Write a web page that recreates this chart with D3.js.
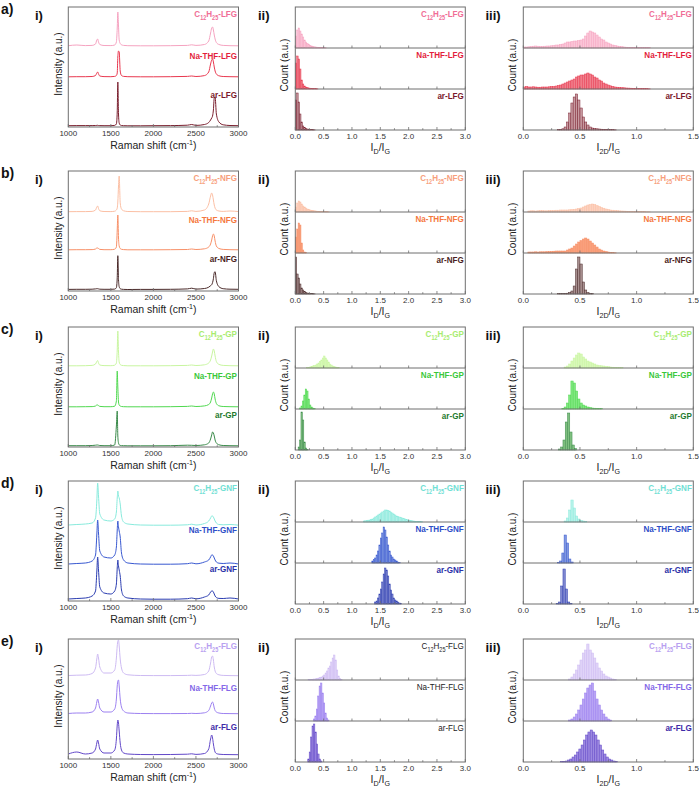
<!DOCTYPE html>
<html><head><meta charset="utf-8">
<script src="https://cdn.jsdelivr.net/npm/d3@7"></script>
<style>body{margin:0;background:#fff}</style>
</head><body><svg id="c" width="699" height="788"></svg>
<script>
// ---------------- DATA ----------------
const rowLetters = ["a)","b)","c)","d)","e)"];
const materials = ["LFG","NFG","GP","GNF","FLG"];
const ramanTicks = [1000,1500,2000,2500,3000];
const idgTicks = [0.0,0.5,1.0,1.5,2.0,2.5,3.0];
const i2dgTicks = [0.0,0.5,1.0,1.5];
const idgBin = 0.025;
const i2dgBin = 0.02;

// Raman shift sample positions (cm-1)
const shifts = [1000,1100,1200,1280,1320,1335,1345,1355,1370,1420,
                1500,1545,1565,1575,1582,1590,1598,1610,1625,1650,
                1700,1850,2000,2200,2400,2450,2500,2600,2650,2672,
                2685,2695,2705,2715,2725,2740,2770,2820,2900,3000];

// spectra: [C12H25, Na-THF, ar], intensity (a.u.) above each trace baseline
const ramanLFG = [
 [0.3,1,0.4,0.6,2,6,7,4,1.5,0.5, 0.4,1,4,18,34,20,6,2.5,1.2,0.6, 0.3,0.2,0.2,0.3,0.6,1.2,0.6,1.5,5,13, 18,19,16,11,7,3.5,1.5,0.6,0.3,0.2],
 [0.2,0.3,0.3,0.5,1.5,4,5,3,1,0.4, 0.3,0.6,1.5,4,20,26,25,6,1.5,0.6, 0.3,0.2,0.2,0.3,0.6,1,0.5,1.4,5,13, 17,18,15,10,6,3,1.2,0.5,0.3,0.2],
 [0.3,0.4,0.4,0.4,0.5,0.6,0.7,0.5,0.4,0.3, 0.3,0.6,2,14,44,12,3,1,0.5,0.3, 0.2,0.2,0.3,0.4,0.8,1.5,0.6,1.5,3.5,6, 8,10,16,28,29,12,4,1.2,0.5,0.3]
];
const ramanNFG = [
 [0.3,0.4,0.4,0.6,2,5,6,3.5,1.2,0.5, 0.4,0.8,2,4,10,26,36,9,3,1.2, 0.5,0.3,0.3,0.3,0.6,1.2,0.6,2,8,16, 19,17,12,7,4,2,1,0.6,1,0.4],
 [0.2,0.3,0.3,0.4,1,2,2,1.5,0.6,0.3, 0.3,0.8,3,20,35,12,4,1.5,0.7,0.4, 0.2,0.2,0.2,0.3,0.5,1,0.5,1.2,3,6, 10,14,16,14,9,4,1.5,0.6,0.3,0.2],
 [0.3,0.4,0.4,0.5,0.8,1,1,0.8,0.5,0.4, 0.4,0.6,2,12,34,10,3,1,0.5,0.3, 0.2,0.3,0.3,0.4,0.8,1.5,0.6,1.2,2.5,4, 5,7,11,17,18,9,3,1,0.5,0.4]
];
const ramanGP = [
 [0.2,0.2,0.3,0.6,2,4.5,5.5,3,1,0.4, 0.3,0.8,3,16,35,14,4,1.5,0.7,0.4, 0.2,0.2,0.2,0.3,0.6,1,0.5,1.2,3,6, 10,14,17,15,10,4.5,1.6,0.6,0.3,0.2],
 [0.2,0.2,0.3,0.4,1,2,2,1.4,0.6,0.3, 0.3,0.8,6,36,20,5,2,1,0.5,0.3, 0.2,0.2,0.2,0.3,0.6,1,0.5,1.1,2.5,5, 9,13,15,13,8,3.5,1.2,0.5,0.3,0.2],
 [0.3,0.3,0.3,0.5,0.8,1,1,0.8,0.5,0.3, 0.3,1,20,35,10,3,1.2,0.6,0.4,0.3, 0.2,0.2,0.2,0.3,0.8,0.7,0.5,1.2,3,7, 11,14,13,10,6,3,1.2,0.5,0.3,0.2]
];
const ramanGNF = [
 [1,1.5,2,3,8,25,43,30,12,6, 5,7,14,28,35,30,28,22,10,4, 2,1,0.8,0.8,1.2,1.8,1,2.5,5,8, 10,10,9,7,5,3,1.5,1.2,1.5,0.8],
 [1,1.5,2,4,10,30,45,32,14,8, 7,10,18,35,44,38,34,28,12,5, 2,1,0.8,0.8,1.3,2,1.2,3,5,8, 10,10,9,7,5,3,1.8,1.5,2,1],
 [1,1.5,2,4,9,28,43,30,13,7, 6,9,16,32,40,34,30,24,10,4, 2,1,0.8,0.8,1.3,2,1.2,3,5,8, 9,9,8,6,4,2.5,1.6,1.5,2,1]
];
const ramanFLG = [
 [0.5,0.8,1,2.5,8,17,22,18,9,3, 3,6,18,30,35,36,30,17,8,3, 1.2,0.5,0.4,0.4,0.6,0.8,0.6,1.5,5,13, 19,20,16,9,5,2.5,1.2,0.6,0.4,0.3],
 [0.5,1,1,2,6,12,15,12,6,2, 2,5,15,28,33,34,28,15,7,3, 1,0.5,0.4,0.4,0.5,0.7,0.5,1.2,3.5,8, 11,12,10,6,3.5,2,1,0.5,0.4,0.3],
 [1,3,1,2,6,12,15,12,6,2, 2,5,16,30,35,32,24,12,5,2, 1,0.5,0.4,0.5,0.8,1.2,0.6,1.5,6,16, 20,17,11,6,3,1.5,0.8,0.5,0.4,0.3]
];
// vertical stacking offsets of the three traces
const offsetLFG = [81,50,1];
const offsetNFG = [79,41,1.3];
const offsetGP  = [81,40,1];
const offsetGNF = [75,36,1];
const offsetFLG = [83,45,4];

// histograms: [first bin start, counts] for [C12H25, Na-THF, ar]
const idgLFG = [
 [0,[12,18,20,17,14,11,8,6,4.5,3.5,2.5,2,1.5,1.2,1,0.8,0.6,0.5,0.4,0.3,0.3,0.2]],
 [0,[26,33,30,20,9,5,3,2,1.5,1,0.8,0.6,0.5,0.4,0.3,0.2]],
 [0,[30,37,28,16,8,4,2.5,1.5,1,0.8,0.6,0.4,0.3,0.2]]
];
const i2dgLFG = [
 [0,[1,1,1.2,1.5,1.8,2,1.8,1.6,1.6,1.8,2,2,2.2,2.5,3,3,3.5,4,5,6,6,6.5,7,7,7.5,8,9,12,15,17,16,15,13,11,9,8,6,5,4,3,2.5,2,1.6,1.3,1,0.8,0.7,0.6,0.5,0.5,0.4,0.4,0.3,0.3,0.5,0.3]],
 [0,[2,2.5,2,2,2.2,2,1.8,1.8,2,2,2,2.2,2.5,2.5,3,3.5,4,5,6,7,8,9,10,12,13,14,14,15,16,15,14,12,11,9,8,6,5,4,3.2,2.6,2,1.8,1.6,1.4,1.2,1,0.9,0.8,0.7,0.6,0.6,0.5,0.5,0.4,0.3,0.2]],
 [0.30,[0.3,0.6,1.2,3,8,17,27,33,36,30,22,13,8,5,3,2,1.6,1.2,1,0.8,0.6,0.5,0.4,0.3,0.3,0.2]]
];
const idgNFG = [
 [0,[5,9,11,10,8,6,5,4,3,2.5,2,1.6,1.4,1.2,1,0.8,0.7,0.6,0.5,0.4,0.4,0.3,0.3,0.2]],
 [0,[16,24,30,28,10,3,1,0.5]],
 [0,[37,20,16,10,6,4,2.5,1.5,1,0.8,0.6,0.4,0.3,0.2]]
];
const i2dgNFG = [
 [0.04,[1,1.2,1.2,1,1.2,1.4,1.4,1.2,1.2,1.5,1.5,1.6,1.8,1.8,2,2,2,2,2.2,2.4,2.6,3,3.5,4,5,6,7,7.5,8,7.5,6.5,5.5,4.5,3.8,3,2.5,2,1.8,1.5,1.3,1.1,1,0.9,0.8,0.7,0.6,0.5,0.5,0.4,0.4,0.3,0.3,0.2,0.2]],
 [0.04,[1,1,1,1.2,1,1.2,1.2,1.2,1.4,1.5,1.6,1.8,2,2,2,2,2,3,4,5,7,9,11,12.5,14,15,14,12,10,8,6,4,3,2,1.5,1,0.6,0.4,0.2]],
 [0.30,[0.3,0.3,0.4,0.6,0.8,1.5,3,8,25,37,30,12,4,1.5,0.6,0.3]]
];
const idgGP = [
 [0.2,[0.5,0.7,1,1.5,2,2.5,3,4,5,6.5,8,10,12,10,8,6,4,3,2,1.5,1,0.7,0.4]],
 [0.075,[1,3,8,14,20,18,10,4,2,1,0.5]],
 [0.05,[3,10,38,30,8,2,0.5]]
];
const i2dgGP = [
 [0.36,[1,2,4,7,10,13,15,14,11,9,7,6,5,4,3,2.5,2.2,2,1.6,1.3,1,0.8,0.6,0.5,0.4,0.3]],
 [0.34,[0.5,2,6,14,28,26,18,10,6,4,3,2,1.5,1,0.8,0.6,0.5,0.3]],
 [0.31,[1,3,10,28,37,18,5,1.5]]
];
const idgGNF = [
 [1.2,[1,1.2,1.5,1.8,2,2.5,3,4,5,6,7,8,9,10,11,12,12,11.5,11,10,9,8,7,6,5.5,5,4.5,4,3.5,3,2.5,2,1.8,1.5,1.2,1,0.8,0.6,0.5,0.4,0.3,0.2]],
 [1.35,[2,3.5,5,8,12,18,25,30,36,33,26,18,12,8,6,4,3,2,1,0.5]],
 [1.4,[2,3,6,10,15,22,30,36,34,28,20,14,10,6,4,3,2,1,0.5]]
];
const i2dgGNF = [
 [0.36,[1,4,12,22,14,6,3,1.5,1,0.5]],
 [0.30,[0.5,2,10,28,20,4,1]],
 [0.29,[0.5,2,18,35,15,2,0.5]]
];
const idgFLG = [
 [0.225,[0.5,0.5,0.7,0.8,1,1.2,1.5,2,2.5,3,4,5,7,9,12,14,18,22,25,20,10,4,1.5,0.5]],
 [0.32,[2,5,12,25,35,38,28,18,8,3,1]],
 [0.22,[3,10,25,36,38,30,18,8,3,1]]
];
const i2dgFLG = [
 [0.40,[1,3,6,10,15,20,27,30,36,30,27,22,17,12,9,6,4,3,2,1,0.5]],
 [0.40,[1,2,4,7,11,16,22,28,33,36,38,30,22,16,11,7,4,2,1]],
 [0.33,[0.5,0.7,1,2,3,5,7,10,13,17,22,27,30,32,30,27,22,17,12,8,5,3,2,1,0.5]]
];

// colours [C12H25, Na-THF, ar]
const lineColors = [
 ["#f5a3c0","#e8384f","#7a1f2e"],
 ["#fbbfa4","#f79068","#4a2a2a"],
 ["#c8f5a0","#50d850","#3a8a4a"],
 ["#88eadc","#3858d0","#2a3cb0"],
 ["#cdbaf2","#9c80f0","#6248c8"]
];
const labelColors = [
 ["#f06e96","#e31e3c","#7b1a2c"],
 ["#f7a07c","#f5783e","#4a1e22"],
 ["#a8ec70","#3ac83a","#1f7a2e"],
 ["#70e0d4","#2e4ec8","#2a30a8"],
 ["#b8a0f0","#8468e8","#3e2aa8"]
];
const histFills = [
 ["#fbc6d8","#f07f8c","#c79aa0"],
 ["#fcd2c0","#f9a07c","#a89090"],
 ["#d8f8b8","#80e880","#80c080"],
 ["#b8f2ea","#8098e0","#8088d0"],
 ["#e0d4f8","#b8a4f4","#9c88e0"]
];

// ---------------- LAYOUT ----------------
const svg = d3.select("#c");
const FONT = "'Liberation Sans', Arial, Helvetica, sans-serif";
const rowTop = [7,171,327,481,639];
const colX = [[68.3,238.5],[295.3,465.3],[523.3,693.3]];
const hI = 120, hH = 123;
const frameColor = "#6f6f6f";

const ramanAll = [ramanLFG,ramanNFG,ramanGP,ramanGNF,ramanFLG];
const offsetAll = [offsetLFG,offsetNFG,offsetGP,offsetGNF,offsetFLG];
const idgAll = [idgLFG,idgNFG,idgGP,idgGNF,idgFLG];
const i2dgAll = [i2dgLFG,i2dgNFG,i2dgGP,i2dgGNF,i2dgFLG];

function rich(parent, x, y, parts, size, opts) {
  opts = opts || {};
  const sx = opts.sx || 1;
  const t = parent.append("text")
    .attr("transform", `translate(${x},${y})` + (opts.rotate ? ` rotate(${opts.rotate})` : "") + ` scale(${sx},1)`)
    .attr("font-family", FONT).attr("font-size", size)
    .attr("font-weight", opts.bold ? "bold" : "normal")
    .attr("fill", opts.color || "#222")
    .attr("text-anchor", opts.anchor || "start");
  let shift = 0;
  parts.forEach(([s,k]) => {
    const target = k === "sub" ? size*0.3 : (k === "sup" ? -size*0.38 : 0);
    const ts = t.append("tspan").text(s).attr("dy", target - shift);
    if (k) ts.attr("font-size", size*0.68);
    shift = target;
  });
  return t;
}

function sampleLabel(prefixIdx, mat) {
  if (prefixIdx === 0) return [["C"],["12","sub"],["H"],["25","sub"],["-"+mat]];
  if (prefixIdx === 1) return [["Na-THF-"+mat]];
  return [["ar-"+mat]];
}

function bottomAxis(g, x, y0, ticks, fmt, minorStep) {
  const dom = x.domain();
  const minors = d3.range(dom[0], dom[1] + 1e-9, minorStep);
  minors.forEach(v => {
    const major = ticks.some(t => Math.abs(t - v) < 1e-9);
    g.append("line").attr("x1", x(v)).attr("x2", x(v))
      .attr("y1", y0).attr("y2", y0 - (major ? 3 : 1.8))
      .attr("stroke", frameColor).attr("stroke-width", 0.8);
  });
  ticks.forEach(v => {
    g.append("text").attr("x", x(v)).attr("y", y0 + 9)
      .attr("text-anchor", "middle").attr("font-family", FONT)
      .attr("font-size", 8).attr("fill", "#333").text(fmt(v));
  });
}

for (let r = 0; r < 5; r++) {
  const top = rowTop[r];
  const mat = materials[r];
  const g = svg.append("g");

  // row letter and panel numerals
  g.append("text").attr("x", 1).attr("y", top + 7).attr("font-family", FONT)
    .attr("font-weight", "bold").attr("font-size", 14).attr("fill", "#111").text(rowLetters[r]);
  [["i)",35],["ii)",258],["iii)",485.5]].forEach(([s,x]) => {
    g.append("text").attr("x", x).attr("y", top + 13).attr("font-family", FONT)
      .attr("font-weight", "bold").attr("font-size", 13).attr("fill", "#111").text(s);
  });

  // ---------- panel i : Raman spectra ----------
  {
    const [x0,x1] = colX[0];
    const x = d3.scaleLinear().domain([1000,3000]).range([x0,x1]);
    const y = d3.scaleLinear().domain([0,hI]).range([top+hI, top]);
    const spectra = ramanAll[r], offs = offsetAll[r];
    const clipId = "clip" + r;
    g.append("clipPath").attr("id", clipId).append("rect")
      .attr("x", x0).attr("y", top).attr("width", x1-x0).attr("height", hI);
    const line = d3.line().x((d,i) => x(shifts[i])).y(d => d).curve(d3.curveMonotoneX);
    spectra.forEach((vals, k) => {
      const pts = vals.map(v => y(offs[k] + v));
      g.append("path").attr("d", line(pts)).attr("fill", "none")
        .attr("stroke", lineColors[r][k]).attr("stroke-width", 1)
        .attr("clip-path", `url(#${clipId})`);
    });
    g.append("rect").attr("x", x0).attr("y", top).attr("width", x1-x0).attr("height", hI)
      .attr("fill", "none").attr("stroke", frameColor).attr("stroke-width", 1);
    bottomAxis(g, x, top+hI, ramanTicks, d3.format("d"), 250);
    const lblY = [top+10, top+52, top+91];
    [0,1,2].forEach(k => rich(g, x1-1.5, lblY[k], sampleLabel(k, mat), 9.5,
      {bold: true, anchor: "end", color: labelColors[r][k], sx: 0.85}));
    rich(g, (x0+x1)/2, Math.min(top+hI+22, 783), [["Raman shift (cm"],["-1","sup"],[")"]], 10.5, {anchor: "middle", color: "#222"});
    rich(g, x0-6, top+57, [["Intensity (a.u.)"]], 10, {anchor: "middle", rotate: -90, color: "#222"});
  }

  // ---------- panels ii & iii : histograms ----------
  [[1, idgAll[r], idgBin, [0,3], idgTicks, 0.25, "D"], [2, i2dgAll[r], i2dgBin, [0,1.5], i2dgTicks, 0.25, "2D"]]
  .forEach(([c, hist, bw, dom, ticks, minorStep, sub]) => {
    const [x0,x1] = colX[c];
    const x = d3.scaleLinear().domain(dom).range([x0,x1]);
    const subH = hH/3;
    hist.forEach(([start, counts], k) => {
      const sTop = top + k*subH;
      const y = d3.scaleLinear().domain([0, subH]).range([sTop + subH, sTop]);
      g.selectAll(null).data(counts).enter().append("rect")
        .attr("x", (d,i) => x(start + i*bw))
        .attr("width", (d,i) => x(start + (i+1)*bw) - x(start + i*bw))
        .attr("y", d => y(d))
        .attr("height", d => y(0) - y(d))
        .attr("fill", histFills[r][k])
        .attr("stroke", lineColors[r][k]).attr("stroke-width", 0.5);
      const lc = (r === 4 && c === 1) ? "#222" : labelColors[r][k];
      rich(g, x1-1.5, sTop+10, sampleLabel(k, mat), 9.5,
        {bold: !(r === 4 && c === 1), anchor: "end", color: lc, sx: 0.85});
      if (k < 2) {
        g.append("line").attr("x1", x0).attr("x2", x1).attr("y1", sTop+subH).attr("y2", sTop+subH)
          .attr("stroke", frameColor).attr("stroke-width", 1);
        ticks.forEach(v => g.append("line").attr("x1", x(v)).attr("x2", x(v))
          .attr("y1", sTop+subH).attr("y2", sTop+subH-2.5).attr("stroke", frameColor).attr("stroke-width", 0.8));
      }
    });
    g.append("rect").attr("x", x0).attr("y", top).attr("width", x1-x0).attr("height", hH)
      .attr("fill", "none").attr("stroke", frameColor).attr("stroke-width", 1);
    bottomAxis(g, x, top+hH, ticks, d3.format(".1f"), minorStep);
    rich(g, (x0+x1)/2, Math.min(top+hH+20.5, 783), [["I"],[sub,"sub"],["/I"],["G","sub"]], 10.5, {anchor: "middle", color: "#222"});
    rich(g, x0-7, top+58, [["Count (a.u.)"]], 10, {anchor: "middle", rotate: -90, color: "#222"});
  });
}
</script>
</body></html>
